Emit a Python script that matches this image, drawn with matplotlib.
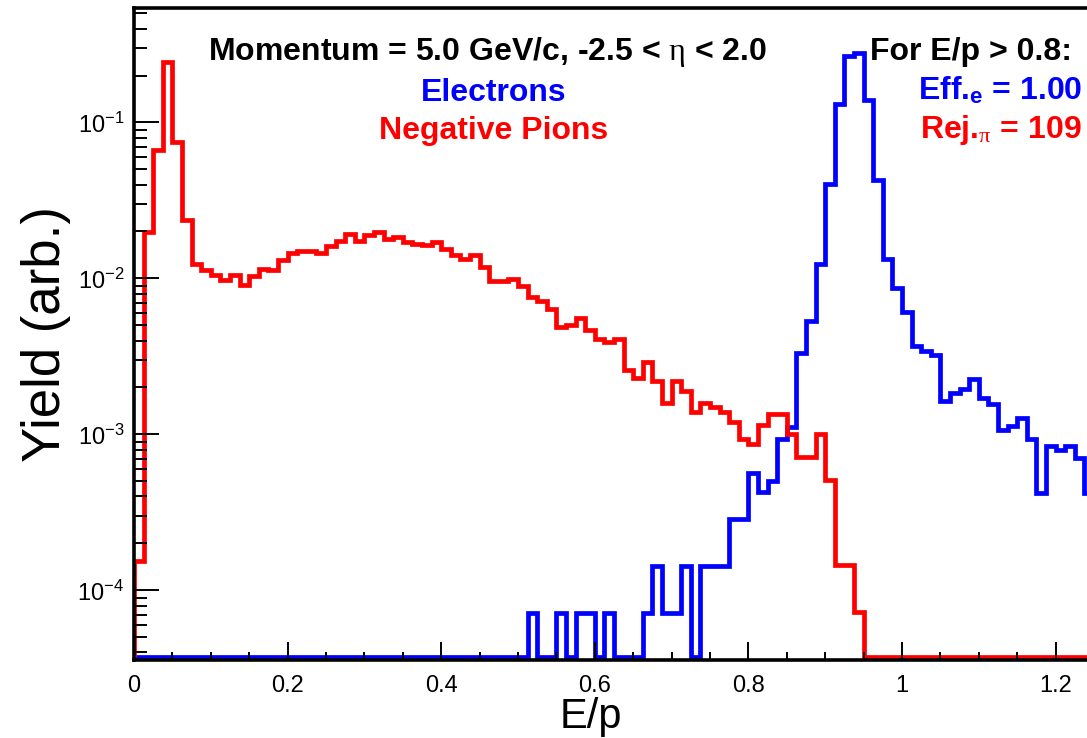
import matplotlib
matplotlib.use('Agg')
import numpy as np
import matplotlib.pyplot as plt
from matplotlib.ticker import LogLocator, NullFormatter

# 100 bins of width 0.0125 in E/p
bin_lo, bin_hi, n_bins = 0.0, 1.25, 100

pion_yield = [
    1.55e-4, 0.0199, 0.0667, 0.245, 0.0753, 0.0237, 0.0124, 0.0113, 0.0105, 0.0098,
    0.0105, 0.0091, 0.0103, 0.0115, 0.0113, 0.0132, 0.0145, 0.0149, 0.0151, 0.0145,
    0.0161, 0.0175, 0.0192, 0.0175, 0.0189, 0.0199, 0.0180, 0.0184, 0.0171, 0.0166,
    0.0164, 0.0172, 0.0154, 0.0142, 0.0133, 0.0141, 0.0119, 0.0096, 0.0096, 0.0099,
    0.0090, 0.0076, 0.0072, 0.0064, 0.0049, 0.0050, 0.0056, 0.0047, 0.0041, 0.0039,
    0.0041, 0.0026, 0.0023, 0.0029, 0.0022, 0.0016, 0.0022, 0.0019, 0.0014, 0.0016,
    0.0015, 0.0014, 0.0012, 0.00093, 0.00087, 0.00115, 0.00135, 0.00135, 0.00101, 0.00072,
    0.00072, 0.00101, 0.00051, 1.46e-4, 1.46e-4, 7.3e-5, 0, 0, 0, 0,
    0, 0, 0, 0, 0, 0, 0, 0, 0, 0,
    0, 0, 0, 0, 0, 0, 0, 0, 0, 0,
]

electron_yield = [
    0, 0, 0, 0, 0, 0, 0, 0, 0, 0,
    0, 0, 0, 0, 0, 0, 0, 0, 0, 0,
    0, 0, 0, 0, 0, 0, 0, 0, 0, 0,
    0, 0, 0, 0, 0, 0, 0, 0, 0, 0,
    0, 7.14e-5, 0, 0, 7.14e-5, 0, 7.14e-5, 7.14e-5, 0, 7.14e-5,
    0, 0, 0, 7.14e-5, 1.43e-4, 7.14e-5, 7.14e-5, 1.43e-4, 0, 1.43e-4,
    1.43e-4, 1.43e-4, 2.86e-4, 2.86e-4, 5.7e-4, 4.3e-4, 5.0e-4, 9.3e-4, 1.12e-3, 3.35e-3,
    5.3e-3, 0.0124, 0.0404, 0.1315, 0.268, 0.278, 0.139, 0.0428, 0.0133, 0.00865,
    0.0061, 0.00367, 0.00343, 0.00322, 0.00165, 0.00185, 0.00195, 0.00226, 0.00171, 0.00157,
    0.00107, 0.00113, 0.00127, 0.00093, 0.00042, 0.00084, 0.00079, 0.00084, 0.00071, 0.00042,
]

xtick_vals = [0, 0.2, 0.4, 0.6, 0.8, 1.0, 1.2]
xtick_labels = ['0', '0.2', '0.4', '0.6', '0.8', '1', '1.2']

plt.rcParams['font.family'] = ['Liberation Sans', 'DejaVu Sans']
plt.rcParams['mathtext.fontset'] = 'custom'
plt.rcParams['mathtext.rm'] = 'Liberation Serif'
plt.rcParams['mathtext.bf'] = 'Liberation Sans:bold'
plt.rcParams['mathtext.it'] = 'Liberation Serif:italic'

ymin, ymax = 3.58e-5, 0.542
floor = ymin * 1.05

edges = np.linspace(bin_lo, bin_hi, n_bins + 1)

fig = plt.figure(figsize=(10.87, 7.38), dpi=100)
ax = fig.add_axes([0.1233, 0.1057, 0.8832, 0.8835])

ax.stairs(np.clip(electron_yield, floor, None), edges, baseline=floor,
          color='#0000ff', lw=3.4)
ax.stairs(np.clip(pion_yield, floor, None), edges, baseline=floor,
          color='#ff0000', lw=3.4)

ax.set_yscale('log')
ax.set_xlim(bin_lo, bin_hi)
ax.set_ylim(ymin, ymax)

ax.set_xticks(xtick_vals, xtick_labels)
ax.set_xticks(np.arange(0, 1.26, 0.05), minor=True)
ax.yaxis.set_major_locator(LogLocator(base=10))
ax.yaxis.set_minor_locator(LogLocator(base=10, subs=np.arange(2, 10)))
ax.yaxis.set_minor_formatter(NullFormatter())

ax.tick_params(axis='x', which='major', direction='in', length=13, width=1.4,
               labelsize=17, pad=11)
ax.tick_params(axis='x', which='minor', direction='in', length=6, width=1.4)
ax.tick_params(axis='y', which='major', direction='in', length=18, width=1.4,
               labelsize=17, pad=7)
ax.tick_params(axis='y', which='minor', direction='in', length=9.5, width=1.4)

for side in ['left', 'top', 'bottom', 'right']:
    ax.spines[side].set_linewidth(2.6)

ax.set_ylabel('Yield (arb.)', fontsize=38)
ax.yaxis.set_label_coords(-0.066, 0.5)
ax.set_xlabel('E/p', fontsize=30)
ax.xaxis.set_label_coords(0.476, -0.056)

fig.text(0.4485, 0.9187, r'Momentum = 5.0 GeV/c, -2.5 < $\mathrm{\eta}$ < 2.0',
         fontsize=23, fontweight='bold', ha='center', va='baseline')
fig.text(0.4545, 0.8631, 'Electrons', fontsize=23, fontweight='bold',
         color='#0000ff', ha='center', va='baseline')
fig.text(0.4545, 0.8117, 'Negative Pions', fontsize=23, fontweight='bold',
         color='#ff0000', ha='center', va='baseline')
fig.text(0.9862, 0.9187, 'For E/p > 0.8:', fontsize=23, fontweight='bold',
         ha='right', va='baseline')
fig.text(0.9954, 0.8645, r'Eff.${}_{\mathbf{e}}$ = 1.00', fontsize=23,
         fontweight='bold', color='#0000ff', ha='right', va='baseline')
fig.text(0.9954, 0.813, r'Rej.${}_{\mathrm{\pi}}$ = 109', fontsize=23,
         fontweight='bold', color='#ff0000', ha='right', va='baseline')

fig.savefig('out.png', dpi=100)
